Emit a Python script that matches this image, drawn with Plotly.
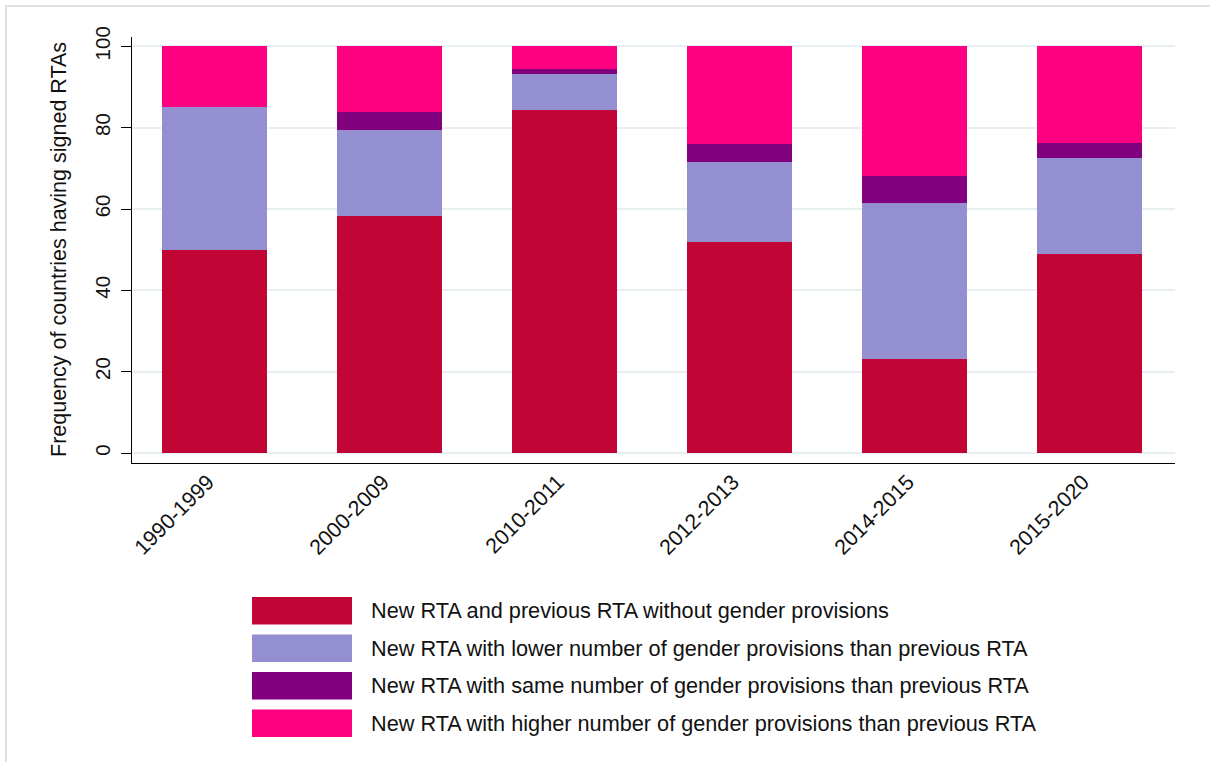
import plotly.graph_objects as go

# Periods on the x axis
periods = ["1990-1999", "2000-2009", "2010-2011", "2012-2013", "2014-2015", "2015-2020"]

# Share of countries (%) in each category, stacked bottom to top
no_provisions = [50.0, 58.3, 84.4, 51.8, 23.2, 49.0]
lower_number = [35.0, 21.1, 8.7, 19.7, 38.2, 23.6]
same_number = [0.0, 4.5, 1.3, 4.5, 6.8, 3.7]
higher_number = [15.0, 16.1, 5.6, 24.0, 31.8, 23.7]

series_names = [
    "New RTA and previous RTA without gender provisions",
    "New RTA with lower number of gender provisions than previous RTA",
    "New RTA with same number of gender provisions than previous RTA",
    "New RTA with higher number of gender provisions than previous RTA",
]
series_values = [no_provisions, lower_number, same_number, higher_number]
series_colors = ["#c10636", "#948fd0", "#80007e", "#ff0080"]

y_ticks = [0, 20, 40, 60, 80, 100]

W, H = 1210, 762
L, R, T, B = 132, 1175, 37, 463
FONT = "Liberation Sans, Arial, sans-serif"


def px_x(x):
    return (x - L) / (R - L)


def px_y(y):
    return (B - y) / (B - T)


fig = go.Figure()
for name, vals, col in zip(series_names, series_values, series_colors):
    fig.add_trace(go.Bar(
        x=periods, y=vals, name=name,
        marker=dict(color=col, line=dict(width=0)),
        showlegend=False,
    ))

shapes = []
annotations = []

# Legend drawn below the plot: wide colour swatches with labels
row_tops = [597, 634.5, 672, 709.5]
for top, name, col in zip(row_tops, series_names, series_colors):
    shapes.append(dict(
        type="rect", xref="paper", yref="paper",
        x0=px_x(252), x1=px_x(352), y0=px_y(top), y1=px_y(top + 27.5),
        fillcolor=col, line=dict(width=0), layer="above",
    ))
    annotations.append(dict(
        xref="paper", yref="paper", x=px_x(369), y=px_y(top + 13.75),
        xanchor="left", yanchor="middle", showarrow=False,
        text=name, font=dict(family=FONT, size=21.7, color="#111111"),
    ))

# Y axis title
annotations.append(dict(
    xref="paper", yref="paper", x=px_x(59), y=0.5,
    xanchor="center", yanchor="middle", showarrow=False, textangle=-90,
    text="Frequency of countries having signed RTAs",
    font=dict(family=FONT, size=21.5, color="#111111"),
))

# Thin frame around the whole graph
shapes.append(dict(
    type="rect", xref="paper", yref="paper",
    x0=px_x(6), x1=px_x(1220), y0=px_y(772), y1=px_y(6),
    line=dict(color="#d8d8d8", width=1.5), fillcolor="rgba(0,0,0,0)",
))

fig.update_layout(
    width=W, height=H,
    margin=dict(l=L, r=W - R, t=T, b=H - B, autoexpand=False),
    barmode="stack", bargap=0.4,
    paper_bgcolor="white", plot_bgcolor="white",
    font=dict(family=FONT, size=20, color="#111111"),
    shapes=shapes, annotations=annotations,
    showlegend=False,
)
fig.update_xaxes(
    range=[-0.474, 5.486], showline=True, linecolor="black", linewidth=1.2,
    ticks="", tickangle=-45, showgrid=False, zeroline=False,
    tickfont=dict(family=FONT, size=21.4, color="#111111"),
    ticklabelstandoff=-3, ticklabelshift=-7,
)
fig.update_yaxes(
    range=[-2.46, 102.3], tickvals=y_ticks, showline=True, linecolor="black",
    linewidth=1.2, ticks="outside", ticklen=10, tickcolor="black", tickwidth=1.2,
    tickangle=-90, showgrid=True, gridcolor="#e8eff2", gridwidth=1.5,
    zeroline=False, tickfont=dict(family=FONT, size=20.5, color="#111111"),
    ticklabelstandoff=3,
)

fig.write_html("out.html")
